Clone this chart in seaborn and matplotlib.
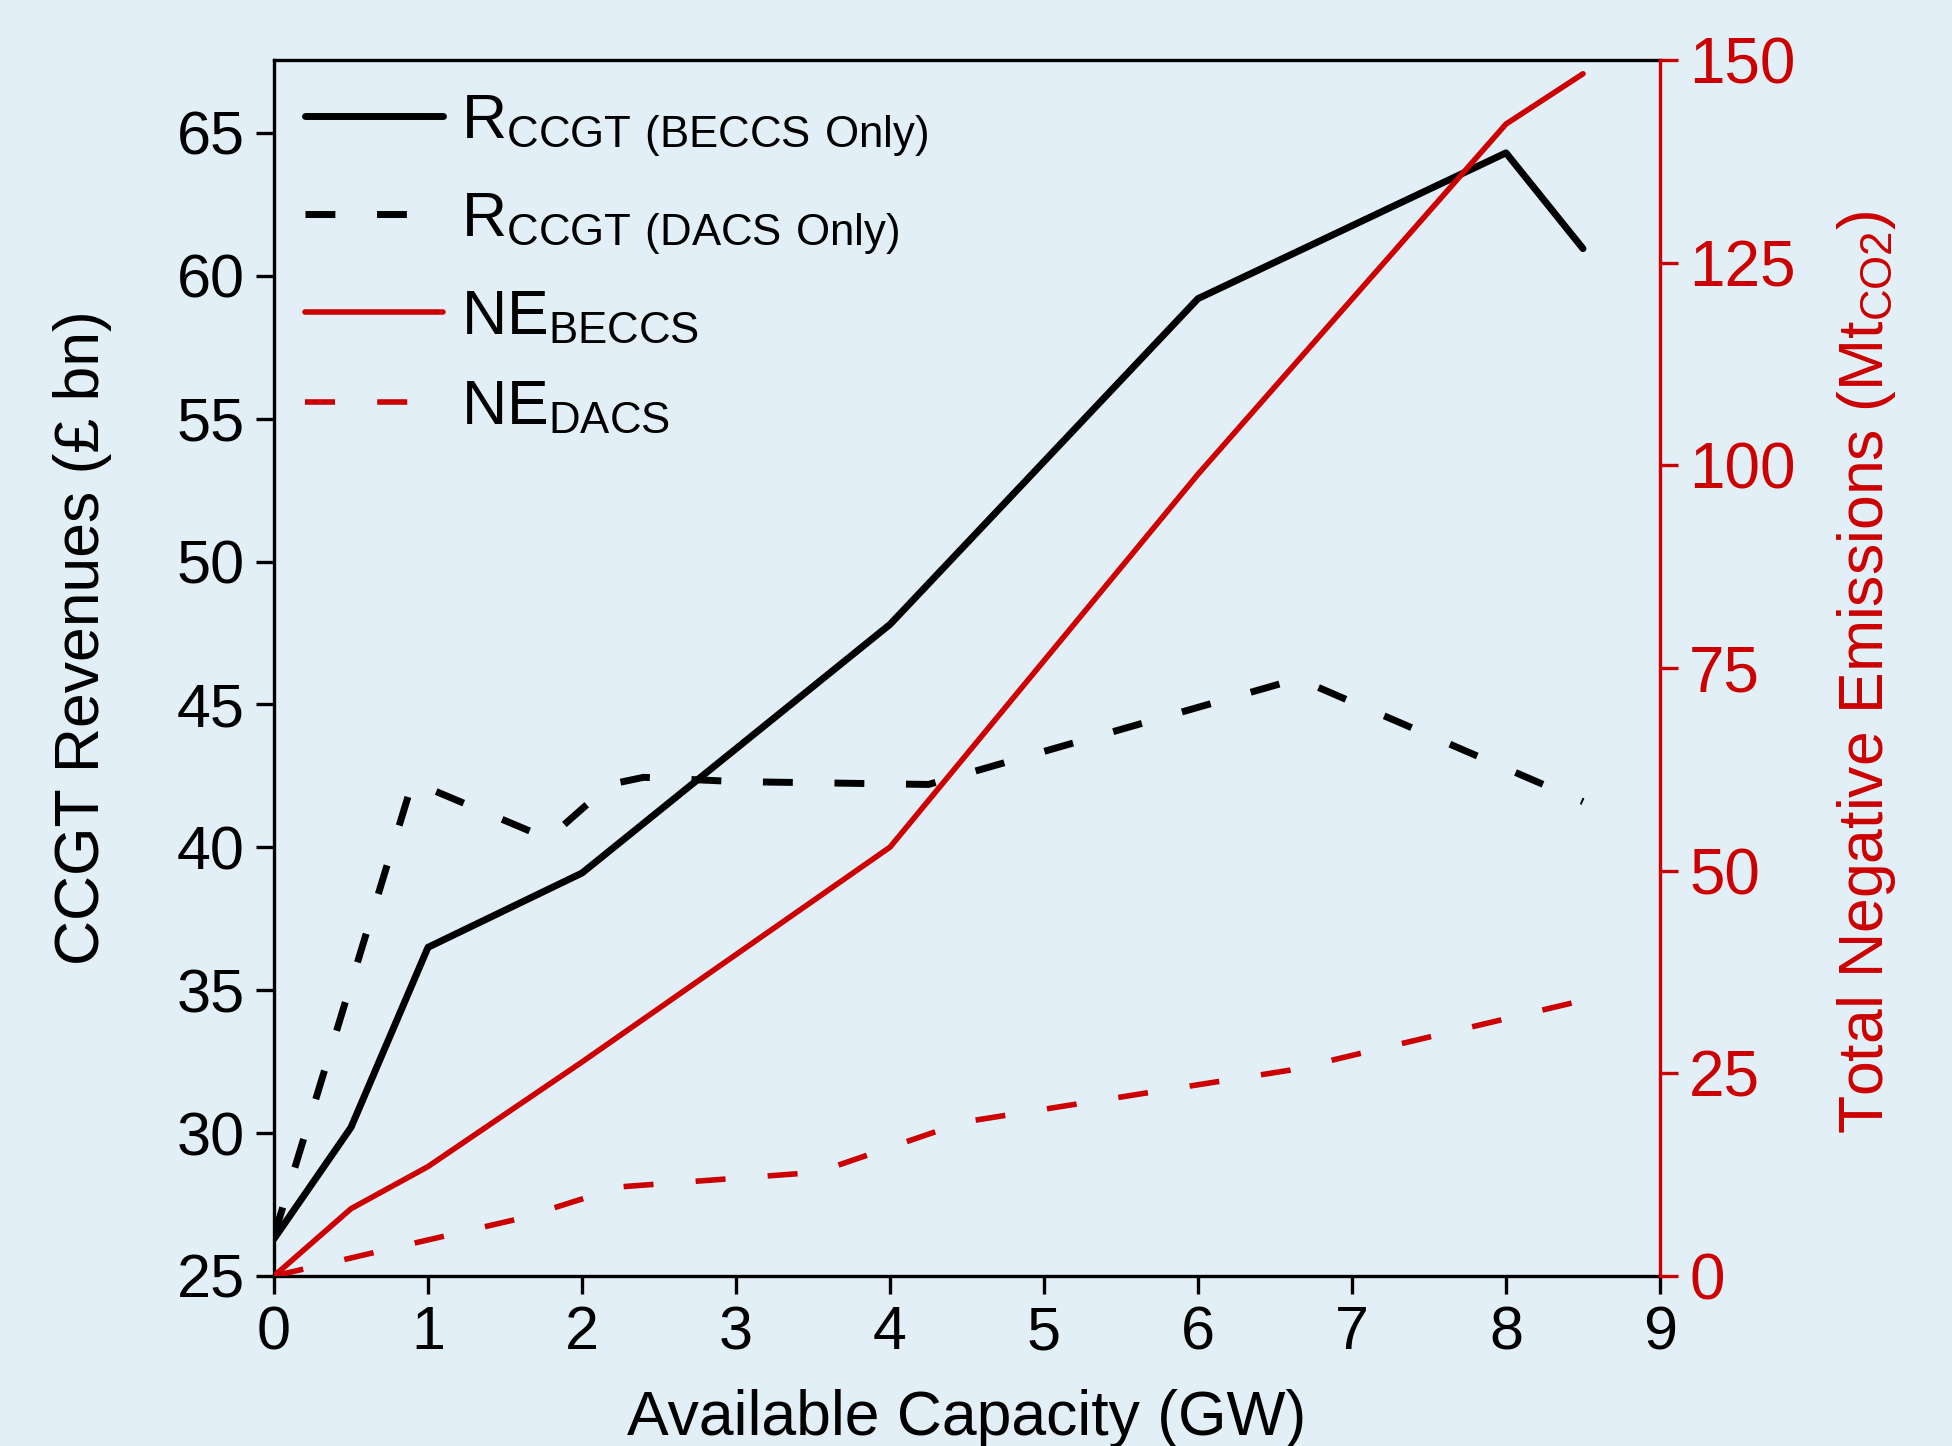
import matplotlib
matplotlib.use("Agg")
import matplotlib.pyplot as plt
import seaborn as sns

# values
cap_r_beccs = [0, 0.5, 1, 2, 4, 6, 8, 8.5]
rev_beccs = [26.3, 30.2, 36.5, 39.1, 47.8, 59.2, 64.3, 60.95]

cap_r_dacs = [0, 0.9, 1.78, 2.18, 2.4, 3.0, 4.25, 6.65, 8.5]
rev_dacs = [26.4, 42.3, 40.3, 42.2, 42.45, 42.3, 42.2, 45.9, 41.6]

cap_ne_beccs = [0, 0.5, 1, 2, 4, 6, 8, 8.5]
ne_beccs = [0, 8.3, 13.5, 26.4, 52.9, 98.9, 142.1, 148.3]

cap_ne_dacs = [0, 1, 1.6, 2.25, 3.53, 4.48, 6.6, 8.5]
ne_dacs = [0, 4.45, 7.1, 11.0, 12.8, 19.0, 25.4, 34.0]

x_ticks = list(range(0, 10))
left_ticks = [25, 30, 35, 40, 45, 50, 55, 60, 65]
right_ticks = [0, 25, 50, 75, 100, 125, 150]

bg = "#E2EFF7"
red = "#CC0000"

sns.set_style("ticks")
plt.rcParams["font.family"] = ["Liberation Sans", "DejaVu Sans"]
plt.rcParams["mathtext.default"] = "regular"
plt.rcParams["text.color"] = "black"
plt.rcParams["axes.labelcolor"] = "black"

fig, ax = plt.subplots(figsize=(19.52, 14.46), dpi=100)
fig.patch.set_facecolor(bg)
ax.set_facecolor(bg)
fig.subplots_adjust(left=274 / 1952, right=1660 / 1952,
                    bottom=1 - 1276 / 1446, top=1 - 60 / 1446)

lw_k = 5.0
lw_r = 4.0
sns.lineplot(x=cap_r_beccs, y=rev_beccs, ax=ax, color="black", linewidth=lw_k,
             label=r"R$_{\mathregular{CCGT\ (BECCS\ Only)}}$")
sns.lineplot(x=cap_r_dacs, y=rev_dacs, ax=ax, color="black", linewidth=lw_k,
             label=r"R$_{\mathregular{CCGT\ (DACS\ Only)}}$")
ax.lines[-1].set_dashes((4.3, 6.0))

ax2 = ax.twinx()
sns.lineplot(x=cap_ne_beccs, y=ne_beccs, ax=ax2, color=red, linewidth=lw_r,
             label=r"NE$_{\mathregular{BECCS}}$")
sns.lineplot(x=cap_ne_dacs, y=ne_dacs, ax=ax2, color=red, linewidth=lw_r,
             label=r"NE$_{\mathregular{DACS}}$")
ax2.lines[-1].set_dashes((5.4, 7.6))

ax.set_xlim(0, 9)
ax.set_ylim(25, 67.55)
ax2.set_ylim(0, 150)
ax.set_xticks(x_ticks)
ax.set_yticks(left_ticks)
ax2.set_yticks(right_ticks)

for s in ["left", "top", "bottom"]:
    ax.spines[s].set_linewidth(2.4)
    ax.spines[s].set_color("black")
    ax2.spines[s].set_visible(False)
ax.spines["right"].set_visible(False)
ax2.spines["right"].set_color(red)
ax2.spines["right"].set_linewidth(2.4)

ax.tick_params(axis="both", direction="out", length=13, width=2.4,
               labelsize=44, colors="black", pad=8)
ax2.tick_params(axis="y", direction="out", length=13, width=2.4,
                labelsize=46, colors=red, pad=8)

ax.set_xlabel("Available Capacity (GW)", fontsize=45, color="black")
ax.xaxis.set_label_coords(0.5, -0.093)
ax.set_ylabel("CCGT Revenues (£ bn)", fontsize=45, color="black")
ax.yaxis.set_label_coords(-0.117, 0.525)
ax2.set_ylabel(r"Total Negative Emissions (Mt$_{\mathregular{CO2}}$)",
               fontsize=45, color=red)
ax2.yaxis.set_label_coords(1.126, 0.497)

h1, l1 = ax.get_legend_handles_labels()
h2, l2 = ax2.get_legend_handles_labels()
ax.get_legend().remove()
ax2.get_legend().remove()
leg = ax2.legend(h1 + h2, l1 + l2, loc="upper left",
                 bbox_to_anchor=(-0.0137, 1.015), frameon=False, fontsize=45,
                 handlelength=2.2, handletextpad=0.3, labelspacing=0.5,
                 borderaxespad=0.4)
for t in leg.get_texts():
    t.set_color("black")

fig.savefig("out.png", dpi=100, facecolor=bg)
